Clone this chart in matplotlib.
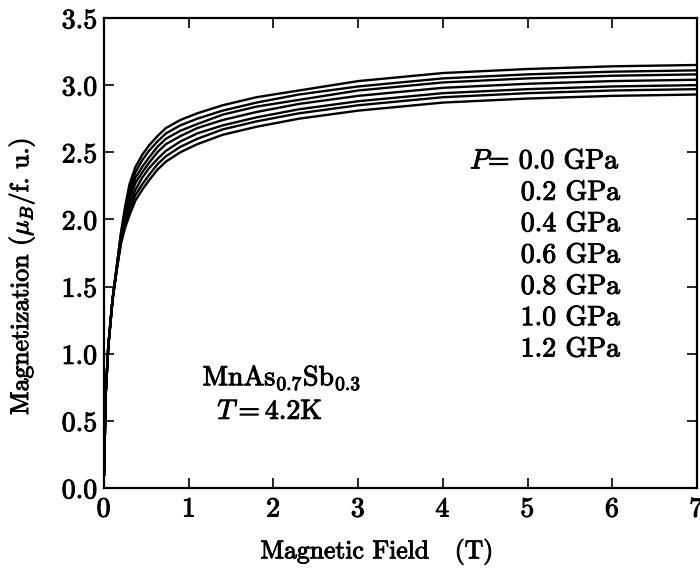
import numpy as np
import matplotlib
matplotlib.use("Agg")
import matplotlib.pyplot as plt
import matplotlib.patheffects as pe

plt.rcParams['font.family'] = 'cmr10'
plt.rcParams['mathtext.fontset'] = 'cm'
plt.rcParams['axes.unicode_minus'] = False
plt.rcParams['axes.formatter.use_mathtext'] = True

# magnetic field (T)
field = [0, 0.02, 0.05, 0.1, 0.15, 0.2, 0.25, 0.3, 0.37, 0.45, 0.53, 0.63,
         0.73, 0.9, 1.1, 1.4, 1.8, 2.3, 3.0, 4.0, 5.0, 6.0, 7.0]

# magnetization (muB / f.u.) for each pressure
m_00 = [0.10, 0.70, 1.05, 1.40, 1.65, 1.90, 2.10, 2.26, 2.39, 2.48, 2.55, 2.62,
        2.68, 2.74, 2.79, 2.85, 2.91, 2.96, 3.03, 3.09, 3.12, 3.14, 3.15]
m_02 = [0.10, 0.70, 1.05, 1.40, 1.65, 1.89, 2.07, 2.22, 2.35, 2.44, 2.51, 2.58,
        2.64, 2.70, 2.75, 2.81, 2.87, 2.93, 2.99, 3.05, 3.08, 3.10, 3.11]
m_04 = [0.10, 0.70, 1.05, 1.40, 1.64, 1.87, 2.05, 2.18, 2.31, 2.39, 2.46, 2.54,
        2.60, 2.66, 2.71, 2.78, 2.84, 2.89, 2.96, 3.02, 3.05, 3.07, 3.08]
m_06 = [0.10, 0.70, 1.05, 1.40, 1.64, 1.86, 2.02, 2.15, 2.27, 2.35, 2.42, 2.50,
        2.56, 2.62, 2.68, 2.74, 2.80, 2.86, 2.92, 2.98, 3.01, 3.03, 3.04]
m_08 = [0.10, 0.70, 1.05, 1.40, 1.63, 1.85, 1.99, 2.11, 2.22, 2.31, 2.38, 2.45,
        2.51, 2.58, 2.64, 2.70, 2.76, 2.82, 2.88, 2.94, 2.97, 2.99, 3.00]
m_10 = [0.10, 0.70, 1.05, 1.40, 1.63, 1.83, 1.97, 2.07, 2.18, 2.26, 2.33, 2.41,
        2.47, 2.54, 2.60, 2.67, 2.73, 2.79, 2.85, 2.91, 2.94, 2.96, 2.97]
m_12 = [0.10, 0.70, 1.05, 1.40, 1.62, 1.82, 1.94, 2.03, 2.14, 2.22, 2.29, 2.37,
        2.43, 2.50, 2.56, 2.63, 2.69, 2.75, 2.81, 2.87, 2.90, 2.92, 2.93]

pressures = ["0.0", "0.2", "0.4", "0.6", "0.8", "1.0", "1.2"]
curves = [m_00, m_02, m_04, m_06, m_08, m_10, m_12]

# slightly heavier glyphs, like the printed figure
bold = [pe.withStroke(linewidth=0.7, foreground='black')]
fs = 20
fs_lab = 18.5

fig = plt.figure(figsize=(7, 5.69), dpi=100)
ax = fig.add_axes([0.1486, 0.1424, 0.8471, 0.826])

for m in curves:
    ax.plot(field, m, color='black', lw=1.7)

ax.set_xlim(0, 7)
ax.set_ylim(0, 3.5)
ax.set_xticks(range(0, 8))
ax.set_yticks(np.arange(0, 3.51, 0.5))
ax.set_yticklabels([f"{v:.1f}" for v in np.arange(0, 3.51, 0.5)])
ax.tick_params(direction='in', top=True, right=True, length=7, width=1.2,
               labelsize=fs)
ax.tick_params(axis='x', pad=6)
ax.tick_params(axis='y', pad=5)
for lab in ax.get_xticklabels() + ax.get_yticklabels():
    lab.set_path_effects(bold)
for sp in ax.spines.values():
    sp.set_linewidth(1.6)

ax.set_xlabel("Magnetic Field   (T)", fontsize=fs_lab, path_effects=bold)
ax.xaxis.set_label_coords(0.46, -0.107)
ax.set_ylabel(r"Magnetization $(\mu_B$/f. u.)", fontsize=fs_lab,
              path_effects=bold)
ax.yaxis.set_label_coords(-0.113, 0.45)

# pressure list
row_y = np.linspace(0.695, 0.295, 7)
for i, p in enumerate(pressures):
    txt = f"{p} GPa"
    if i == 0:
        txt = r"$P$= " + txt
    ax.text(0.87, row_y[i], txt, transform=ax.transAxes, ha='right',
            va='center', fontsize=fs, path_effects=bold)

ax.text(0.30, 0.235, r"MnAs$_{0.7}$Sb$_{0.3}$", transform=ax.transAxes,
        ha='center', va='center', fontsize=fs, path_effects=bold)
ax.text(0.28, 0.162, r"$T=$4.2K", transform=ax.transAxes,
        ha='center', va='center', fontsize=fs, path_effects=bold)

fig.savefig("out.png", dpi=100)
